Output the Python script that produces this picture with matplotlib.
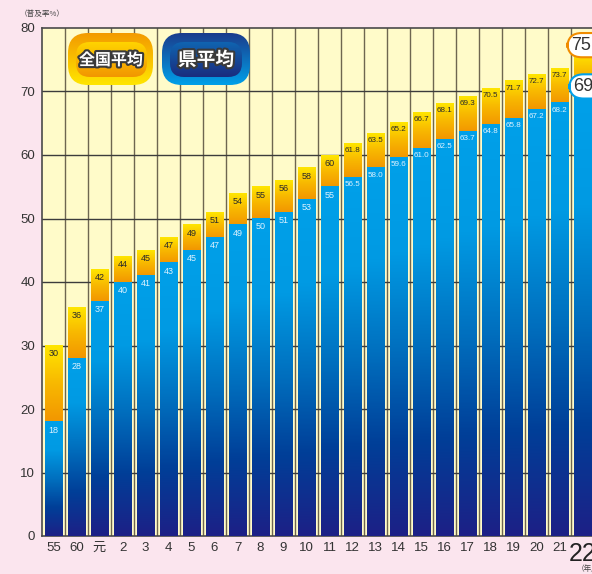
import numpy as np
import matplotlib.pyplot as plt
import matplotlib.patheffects as pe
from matplotlib.colors import LinearSegmentedColormap
from matplotlib.patches import FancyBboxPatch

plt.rcParams['font.family'] = ['Liberation Sans', 'Noto Sans CJK JP']

years = ["55", "60", "元", "2", "3", "4", "5", "6", "7", "8", "9", "10", "11",
         "12", "13", "14", "15", "16", "17", "18", "19", "20", "21", "22"]
national = [30, 36, 42, 44, 45, 47, 49, 51, 54, 55, 56, 58, 60,
            61.8, 63.5, 65.2, 66.7, 68.1, 69.3, 70.5, 71.7, 72.7, 73.7, 75.9]
prefecture = [18, 28, 37, 40, 41, 43, 45, 47, 49, 50, 51, 53, 55,
              56.5, 58.0, 59.6, 61.0, 62.5, 63.7, 64.8, 65.8, 67.2, 68.2, 69.6]
n_int = 13  # first 13 years are shown as whole numbers

W, H = 592, 574
BG = "#FBE5EE"
CREAM = "#FFFBC9"

orange_cm = LinearSegmentedColormap.from_list("orn", ["#F29600", "#F8B800", "#FFE600"])
blue_cm = LinearSegmentedColormap.from_list(
    "blu", ["#1D2086", "#003F98", "#0070BF", "#009AE3", "#00A0E9"])

def fmt(v, i):
    return f"{v:.0f}" if i < n_int else f"{v:.1f}"

def fill_grad(ax, patch, cmap, zorder):
    # paint a vertical gradient exactly over the bar's rectangle
    x0, y0 = patch.get_x(), patch.get_y()
    x1, y1 = x0 + patch.get_width(), y0 + patch.get_height()
    g = np.tile(np.linspace(0, 1, 512).reshape(-1, 1), (1, 4))
    ax.imshow(g, extent=(x0, x1, y0, y1), origin="lower", cmap=cmap,
              aspect="auto", zorder=zorder, interpolation="nearest")
    patch.set_facecolor("none")

fig = plt.figure(figsize=(W / 100, H / 100), dpi=100)
fig.patch.set_facecolor(BG)

# axes: x from 42px, 23px per column; y from 28px (80) to 536px (0)
ax = fig.add_axes([42 / W, (H - 536) / H, 24 * 23 / W, 508 / H])
ax.set_facecolor(CREAM)

x = np.arange(len(years))
nat = np.array(national)
pref = np.array(prefecture)
width = 0.78

top_bars = ax.bar(x, nat - pref, width, bottom=pref, edgecolor="none", zorder=3)
low_bars = ax.bar(x, pref, width, edgecolor="none", zorder=3)
for p in top_bars:
    fill_grad(ax, p, orange_cm, 3)
for p in low_bars:
    fill_grad(ax, p, blue_cm, 3)

for i in range(len(years) - 1):
    fs = 6.5 if i < n_int else 5.8
    ax.text(x[i], nat[i] - 0.6, fmt(nat[i], i), ha="center", va="top",
            fontsize=fs, color="#2a2a2a", zorder=5)
    ax.text(x[i], pref[i] - 0.6, fmt(pref[i], i), ha="center", va="top",
            fontsize=fs, color="#DDF2FF", zorder=5)

# last year callouts
ax.text(22.5, 77.3, fmt(nat[-1], 30), ha="left", va="center", fontsize=13,
        color="#333333", zorder=6,
        bbox=dict(boxstyle="round,pad=0.2,rounding_size=0.8", fc="white",
                  ec="#F08C00", lw=1.5))
ax.text(22.58, 70.8, fmt(pref[-1], 30), ha="left", va="center", fontsize=13,
        color="#333333", zorder=6,
        bbox=dict(boxstyle="round,pad=0.2,rounding_size=0.8", fc="white",
                  ec="#00A0E9", lw=1.5))

# grid, kept under the bars
for k in range(1, len(years)):
    ax.axvline(k - 0.5, color="#6E6650", lw=1.0, zorder=0.5)
for yv in range(10, 80, 10):
    ax.axhline(yv, color="#3C3C3C", lw=1.0, zorder=0.5)

ax.set_xlim(-0.5, 23.5)
ax.set_ylim(0, 80)
ax.set_yticks(range(0, 81, 10))
ax.set_xticks(x)
ax.set_xticklabels(years)
ax.tick_params(length=0, labelsize=9.5, colors="#333333")
ax.tick_params(axis="y", pad=5)
ax.tick_params(axis="x", pad=4)
ax.get_xticklabels()[-1].set_fontsize(18)
ax.get_xticklabels()[-1].set_color("#222222")
for s in ["top", "left", "bottom"]:
    ax.spines[s].set_color("#4A4A4A")
    ax.spines[s].set_linewidth(1.2)
ax.spines["right"].set_visible(False)

fig.text(20 / W, 1 - 14 / H, "（普及率%）", fontsize=5.5, color="#444444",
         va="center", ha="left", family=["Noto Sans CJK JP"])
fig.text(577 / W, 1 - 569 / H, "（年度）", fontsize=5.5, color="#444444",
         va="center", ha="left", family=["Noto Sans CJK JP"])

# legend badges in pixel coordinates
ov = fig.add_axes([0, 0, 1, 1], zorder=10)
ov.set_xlim(0, W)
ov.set_ylim(H, 0)
ov.axis("off")
ov.patch.set_alpha(0)

def badge(x0, y0, x1, y1, r, colors):
    box = FancyBboxPatch((x0 + r, y0 + r), x1 - x0 - 2 * r, y1 - y0 - 2 * r,
                         boxstyle=f"round,pad={r}", fc="none", ec="none")
    ov.add_patch(box)
    cm = LinearSegmentedColormap.from_list("b", colors)
    g = np.tile(np.linspace(0, 1, 256).reshape(-1, 1), (1, 4))
    im = ov.imshow(g, extent=(x0, x1, y1, y0), origin="upper", cmap=cm,
                   aspect="auto", interpolation="nearest")
    im.set_clip_path(box)

badge(68, 33, 153, 85, 20, ["#F39A00", "#FFE600"])
badge(76, 42, 147, 77, 14, ["#FFD400", "#F29600"])
badge(162, 33, 250, 85, 20, ["#1B3C8C", "#00A0E9"])
badge(170, 42, 242, 77, 14, ["#1064B0", "#1A2C7E"])
ov.set_xlim(0, W)
ov.set_ylim(H, 0)

stroke = [pe.withStroke(linewidth=3, foreground="#3a3a3a")]
ov.text(111, 60, "全国平均", ha="center", va="center", fontsize=11.5,
        fontweight="bold", color="white", family=["Noto Sans CJK JP"],
        path_effects=stroke)
ov.text(206, 60, "県平均", ha="center", va="center", fontsize=13.5,
        fontweight="bold", color="white", family=["Noto Sans CJK JP"],
        path_effects=stroke)

fig.savefig("out.png", dpi=100, facecolor=BG)
